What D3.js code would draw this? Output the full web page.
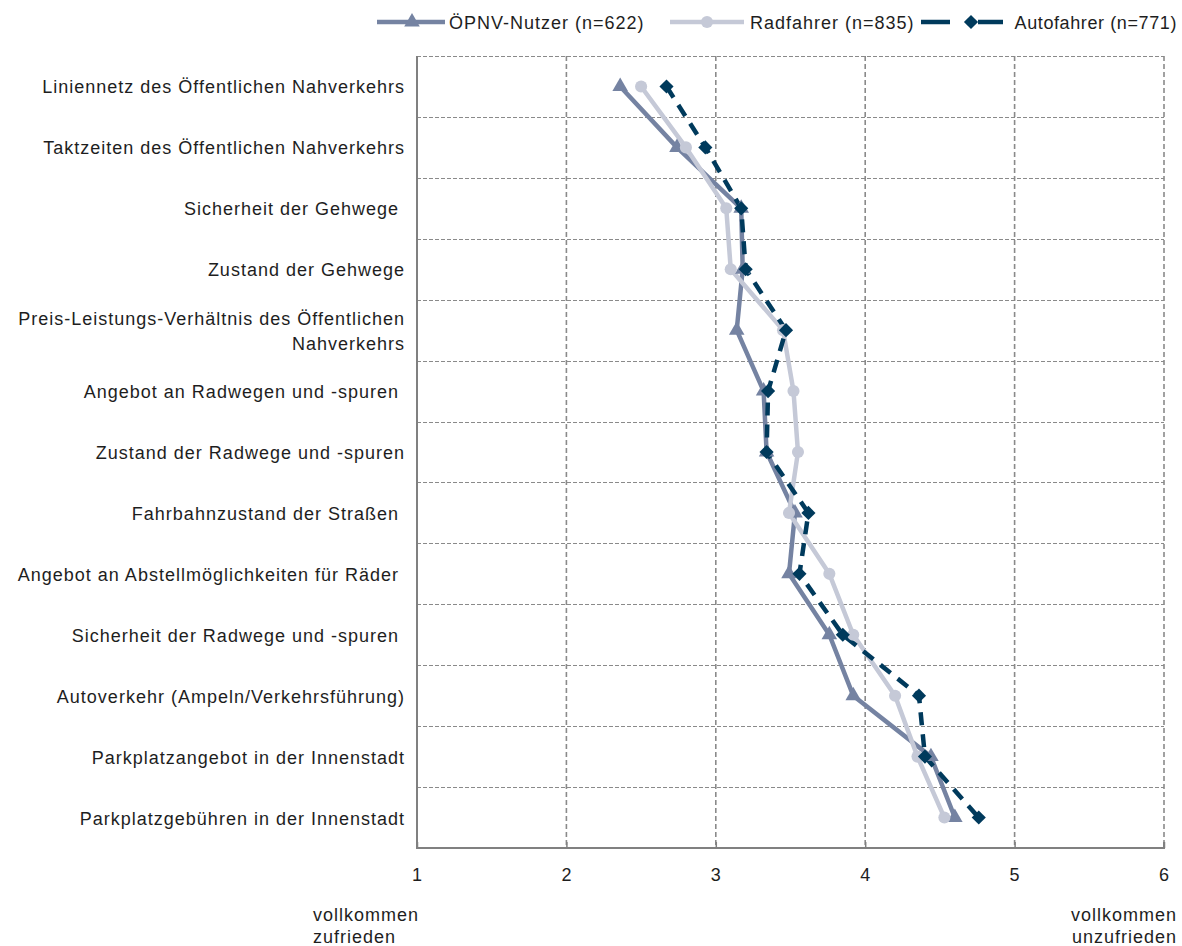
<!DOCTYPE html>
<html><head><meta charset="utf-8">
<script src="https://cdn.jsdelivr.net/npm/d3@7"></script>
<style>body{margin:0;background:#fff}svg{display:block}text{font-family:"Liberation Sans",Arial,sans-serif;fill:#1e1e1e;font-size:18px;letter-spacing:1px}</style>
</head><body><svg id="c" width="1182" height="946"></svg>
<script>
const categories = [
  ["Liniennetz des Öffentlichen Nahverkehrs"],
  ["Taktzeiten des Öffentlichen Nahverkehrs"],
  ["Sicherheit der Gehwege "],
  ["Zustand der Gehwege"],
  ["Preis-Leistungs-Verhältnis des Öffentlichen", "Nahverkehrs"],
  ["Angebot an Radwegen und -spuren "],
  ["Zustand der Radwege und -spuren"],
  ["Fahrbahnzustand der Straßen "],
  ["Angebot an Abstellmöglichkeiten für Räder "],
  ["Sicherheit der Radwege und -spuren "],
  ["Autoverkehr (Ampeln/Verkehrsführung)"],
  ["Parkplatzangebot in der Innenstadt"],
  ["Parkplatzgebühren in der Innenstadt"]
];
const seriesNames = ["ÖPNV-Nutzer (n=622)", "Radfahrer (n=835)", "Autofahrer (n=771)"];
const oepnv = [2.36, 2.74, 3.17, 3.18, 3.14, 3.32, 3.34, 3.53, 3.49, 3.76, 3.92, 4.44, 4.60];
const rad   = [2.50, 2.80, 3.07, 3.10, 3.45, 3.52, 3.55, 3.49, 3.76, 3.92, 4.20, 4.35, 4.53];
const auto  = [2.67, 2.93, 3.17, 3.20, 3.47, 3.35, 3.34, 3.62, 3.56, 3.85, 4.36, 4.40, 4.76];
const xTicks = [1, 2, 3, 4, 5, 6];
const leftNote = ["vollkommen", "zufrieden"];
const rightNote = ["vollkommen", "unzufrieden"];

const svg = d3.select("#c");
const L = 417, R = 1164, T = 56, B = 848;
const x = d3.scaleLinear().domain([1, 6]).range([L, R]);
const y = d3.scaleBand().domain(d3.range(categories.length)).range([T, B]);

const g = svg.append("g");
// horizontal grid
const hb = d3.range(categories.length).map(i => y(i));
g.selectAll("line.hg").data(hb).join("line")
  .attr("x1", L).attr("x2", R).attr("y1", d => Math.round(d) + 0.5).attr("y2", d => Math.round(d) + 0.5)
  .attr("stroke", "#8a8a8a").attr("stroke-width", 1).attr("stroke-dasharray", "4,2");
// vertical grid
g.selectAll("line.vg").data(xTicks.slice(1)).join("line")
  .attr("x1", d => x(d)).attr("x2", d => x(d)).attr("y1", T).attr("y2", B)
  .attr("stroke", "#8a8a8a").attr("stroke-width", 1.6).attr("stroke-dasharray", "5,3");
// left axis line
g.append("line").attr("x1", L).attr("x2", L).attr("y1", T).attr("y2", B).attr("stroke", "#808080").attr("stroke-width", 2);

// bottom axis
const ax = svg.append("g").attr("transform", `translate(0,${B})`)
  .call(d3.axisBottom(x).tickValues(xTicks).tickFormat(d3.format("d")).tickSize(6).tickPadding(14));
ax.select(".domain").attr("stroke", "#808080").attr("stroke-width", 2).attr("d", `M${L},-6V0H${R}V-6`);
ax.selectAll(".tick line").attr("stroke", "#808080").attr("stroke-width", 1.5).attr("y1", -6).attr("y2", 0);
ax.selectAll(".tick text").attr("fill", "#1e1e1e").style("font-size", "18px").style("font-family", "Liberation Sans, Arial, sans-serif");

// category labels
categories.forEach((c, i) => {
  const cy = y(i) + y.bandwidth() / 2;
  const t = svg.append("text").attr("text-anchor", "end").attr("xml:space", "preserve");
  const n = c.length;
  c.forEach((s, j) => {
    t.append("tspan").attr("x", 405).attr("y", cy + 7 + (j - (n - 1) / 2) * 25).text(s);
  });
});

// notes
svg.append("text").attr("x", 313).attr("y", 921).text(leftNote[0]);
svg.append("text").attr("x", 313).attr("y", 943).text(leftNote[1]);
svg.append("text").attr("x", 1177).attr("y", 921).attr("text-anchor", "end").text(rightNote[0]);
svg.append("text").attr("x", 1177).attr("y", 943).attr("text-anchor", "end").text(rightNote[1]);

const cy = i => y(i) + y.bandwidth() / 2;
const line = d3.line().x(d => x(d[0])).y(d => cy(d[1]));
const styles = [
  {data: oepnv, color: "#7583a2", dash: null, sym: d3.symbolTriangle, size: 105, rot: 0},
  {data: rad, color: "#c5c9d7", dash: null, sym: d3.symbolCircle, size: 115, rot: 0},
  {data: auto, color: "#003a5c", dash: "13,9", sym: d3.symbolSquare, size: 100, rot: 45}
];
styles.forEach(s => {
  svg.append("path").datum(s.data.map((v, i) => [v, i])).attr("d", line)
    .attr("fill", "none").attr("stroke", s.color).attr("stroke-width", 4.5)
    .attr("stroke-dasharray", s.dash).attr("stroke-linejoin", "round");
});
styles.forEach(s => {
  svg.append("g").selectAll("path").data(s.data).join("path")
    .attr("transform", (v, i) => `translate(${x(v)},${cy(i)}) rotate(${s.rot})`)
    .attr("d", d3.symbol().type(s.sym).size(s.size)).attr("fill", s.color);
});

// legend
const leg = [
  {x1: 377, x2: 445, mx: 412, tx: 449, anchor: "start"},
  {x1: 670, x2: 744, mx: 707, tx: 750, anchor: "start"},
  {x1: 921, x2: 1003, mx: 971, tx: 1177, anchor: "end"}
];
leg.forEach((l, k) => {
  const s = styles[k];
  if (k === 2) {
    svg.append("line").attr("x1", 921).attr("x2", 950).attr("y1", 22).attr("y2", 22).attr("stroke", s.color).attr("stroke-width", 4.5);
    svg.append("line").attr("x1", 978).attr("x2", 1003).attr("y1", 22).attr("y2", 22).attr("stroke", s.color).attr("stroke-width", 4.5);
  } else {
    svg.append("line").attr("x1", l.x1).attr("x2", l.x2).attr("y1", 22).attr("y2", 22)
      .attr("stroke", s.color).attr("stroke-width", 4.5);
  }
  svg.append("path").attr("transform", `translate(${l.mx},22) rotate(${s.rot})`)
    .attr("d", d3.symbol().type(s.sym).size(s.size)).attr("fill", s.color);
  svg.append("text").attr("x", l.tx).attr("y", 29).attr("text-anchor", l.anchor)
    .style("letter-spacing", k === 2 ? "0.6px" : "1px").text(seriesNames[k]);
});
</script></body></html>
